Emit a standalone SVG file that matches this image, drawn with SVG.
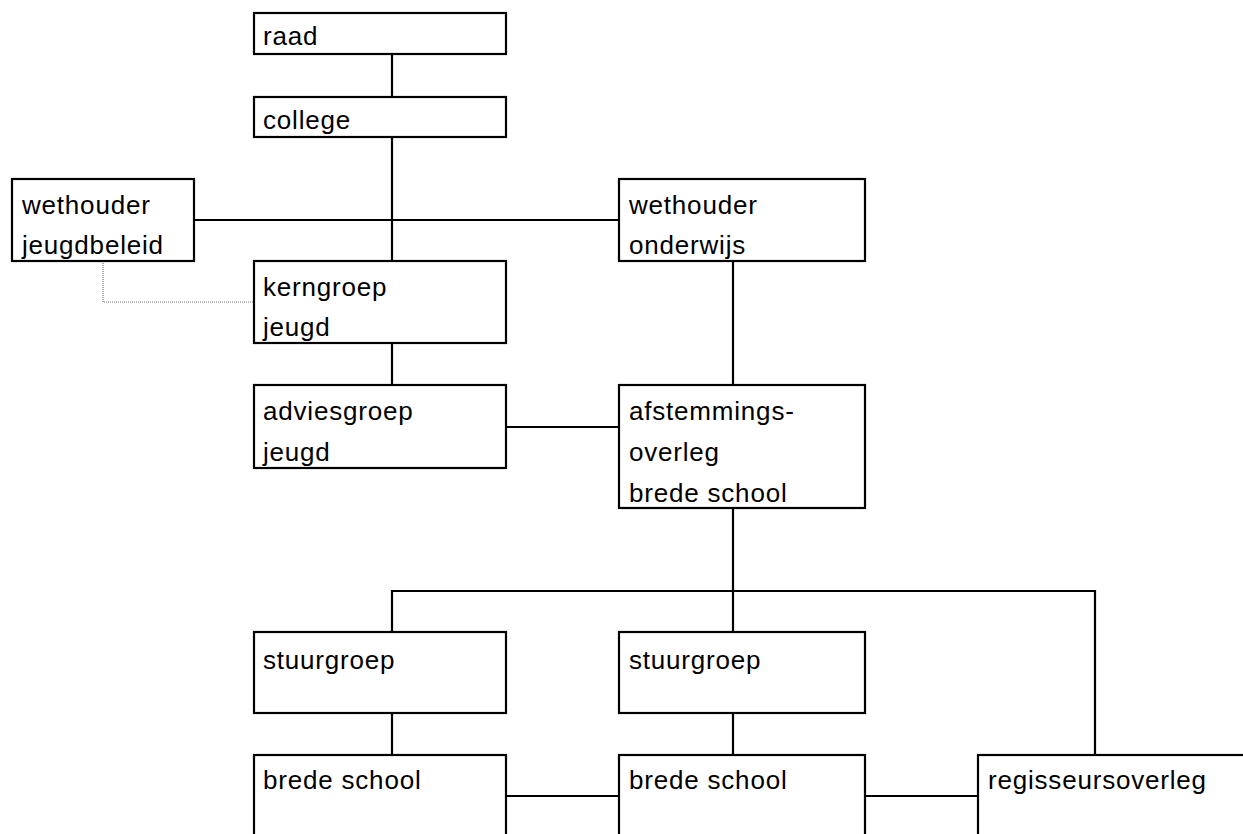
<svg xmlns="http://www.w3.org/2000/svg" width="1243" height="834" viewBox="0 0 1243 834">
<style>
.box{fill:#fff;stroke:#000;stroke-width:2.2}
.lbl{font-family:"Liberation Sans",Arial,sans-serif;font-size:26px;letter-spacing:0.8px;fill:#000}
.con{fill:none;stroke:#000;stroke-width:2.2}
.dot{fill:none;stroke:#777;stroke-width:1.2;stroke-dasharray:1 1}
</style>
<rect width="1243" height="834" fill="#fff"/>
<g id="connectors">
<path class="con" d="M392 54V97M392 137V261M392 343V385M194 220H619M733 261V385M506 427H619M733 508V632M392 632V591H1095V755M392 713V755M733 713V755M506 796H619M865 796H978"/>
<path class="dot" d="M103 261V302H254"/>
</g>
<g id="raad"><rect class="box" x="254" y="13" width="252" height="41"/><text class="lbl" x="263" y="45">raad</text></g>
<g id="college"><rect class="box" x="254" y="97" width="252" height="40"/><text class="lbl" x="263" y="129">college</text></g>
<g id="wethouder-jeugdbeleid"><rect class="box" x="12" y="179" width="182" height="82"/><text class="lbl" x="22" y="214">wethouder</text><text class="lbl" x="22" y="254">jeugdbeleid</text></g>
<g id="wethouder-onderwijs"><rect class="box" x="619" y="179" width="246" height="82"/><text class="lbl" x="629" y="214">wethouder</text><text class="lbl" x="629" y="254">onderwijs</text></g>
<g id="kerngroep"><rect class="box" x="254" y="261" width="252" height="82"/><text class="lbl" x="263" y="296">kerngroep</text><text class="lbl" x="263" y="336">jeugd</text></g>
<g id="adviesgroep"><rect class="box" x="254" y="385" width="252" height="83"/><text class="lbl" x="263" y="420">adviesgroep</text><text class="lbl" x="263" y="461">jeugd</text></g>
<g id="afstemmingsoverleg"><rect class="box" x="619" y="385" width="246" height="123"/><text class="lbl" x="629" y="420">afstemmings-</text><text class="lbl" x="629" y="461">overleg</text><text class="lbl" x="629" y="502">brede school</text></g>
<g id="stuurgroep1"><rect class="box" x="254" y="632" width="252" height="81"/><text class="lbl" x="263" y="669">stuurgroep</text></g>
<g id="stuurgroep2"><rect class="box" x="619" y="632" width="246" height="81"/><text class="lbl" x="629" y="669">stuurgroep</text></g>
<g id="bredeschool1"><rect class="box" x="254" y="755" width="252" height="120"/><text class="lbl" x="263" y="789">brede school</text></g>
<g id="bredeschool2"><rect class="box" x="619" y="755" width="246" height="120"/><text class="lbl" x="629" y="789">brede school</text></g>
<g id="regisseursoverleg"><rect class="box" x="978" y="755" width="300" height="120"/><text class="lbl" x="988" y="789">regisseursoverleg</text></g>
</svg>
